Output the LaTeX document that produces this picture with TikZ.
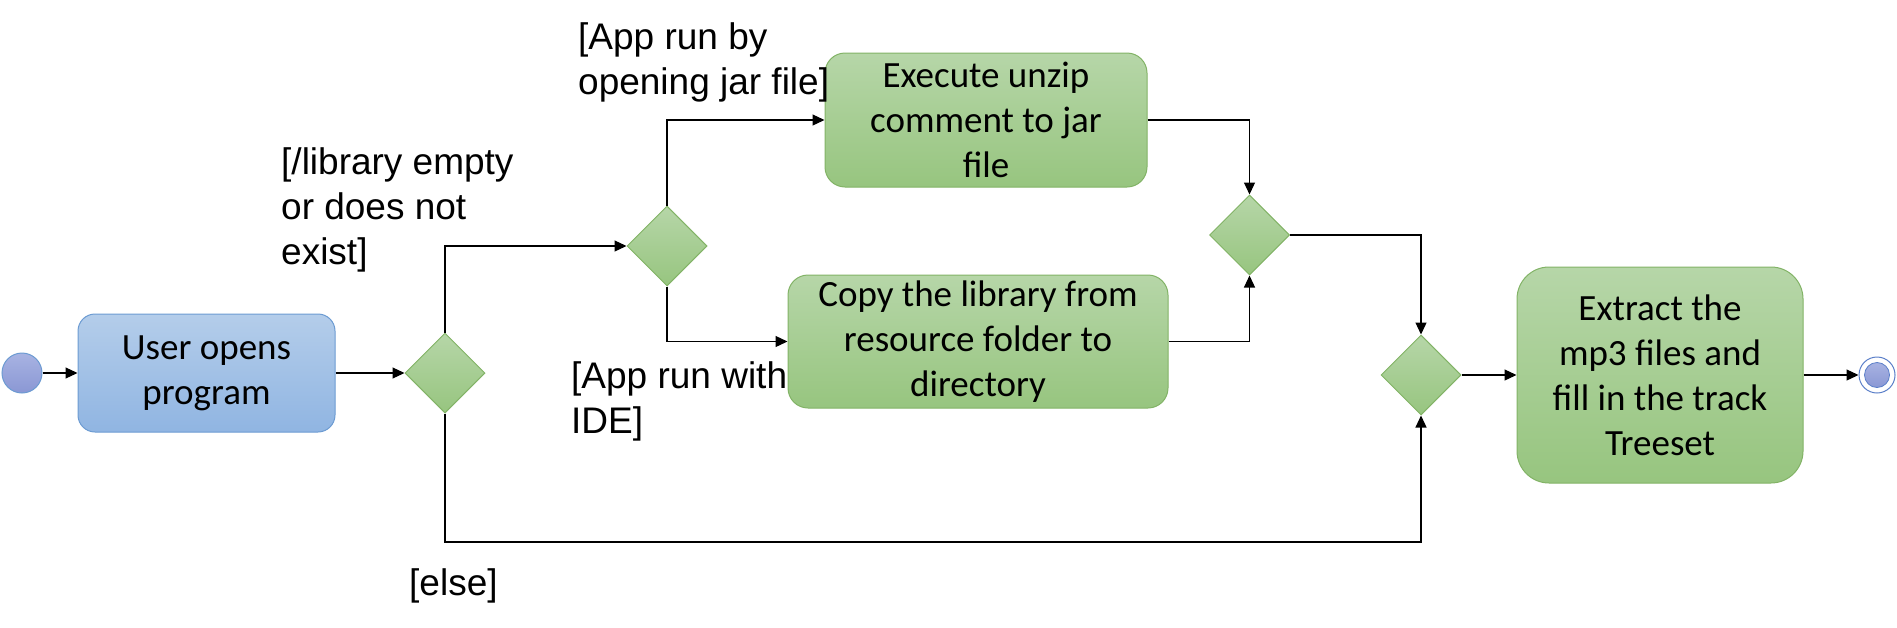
\documentclass[tikz,border=0pt]{standalone}
\usepackage{fontspec}
\setmainfont{Carlito}
\newfontfamily\labelfont{Liberation Sans}
\usetikzlibrary{shapes.geometric,arrows.meta}
\definecolor{grntop}{HTML}{B6D6A8}
\definecolor{grnbot}{HTML}{97C57F}
\definecolor{grnline}{HTML}{82B366}
\definecolor{blutop}{HTML}{B4CDEA}
\definecolor{blubot}{HTML}{90B5E2}
\definecolor{bluline}{HTML}{6C9BD2}
\definecolor{dottop}{HTML}{A8B3E2}
\definecolor{dotbot}{HTML}{8A97D4}
\definecolor{dotline}{HTML}{5B7FC9}
\begin{document}
\begin{tikzpicture}[x=1pt,y=-1pt,
  act/.style={rectangle, rounded corners=#1, align=center, inner sep=0pt,
    font=\fontsize{37}{45}\selectfont, line width=1pt},
  greenbox/.style={draw=grnline, top color=grntop, bottom color=grnbot},
  bluebox/.style={draw=bluline, top color=blutop, bottom color=blubot},
  dec/.style={diamond, aspect=1, draw=grnline, line width=1pt, top color=grntop,
    bottom color=grnbot, minimum width=80pt, minimum height=80pt, inner sep=0pt},
  startc/.style={circle, draw=bluline, line width=1pt, top color=dottop,
    bottom color=dotbot, minimum size=40pt, inner sep=0pt},
  endout/.style={circle, draw=dotline, line width=1pt, fill=white,
    minimum size=36pt, inner sep=0pt},
  endin/.style={circle, draw=dotline, line width=0.8pt, top color=dottop,
    bottom color=dotbot, minimum size=25pt, inner sep=0pt},
  arr/.style={draw=black, line width=1.2pt, -{Triangle[length=12pt,width=11pt]}},
  lbl/.style={anchor=north west, inner sep=0pt, align=left,
    font=\labelfont\fontsize{37}{45}\selectfont}
]
\useasboundingbox (0,0) rectangle (1897,627);

\node[startc] (start) at (22,373) {};
\node[act=17pt, bluebox, minimum width=257pt, minimum height=118pt] (user) at (206.5,373) {User opens\\program};
\node[dec] (d1) at (445,373) {};
\node[dec] (d2) at (667,246) {};
\node[act=20pt, greenbox, minimum width=322pt, minimum height=134pt] (exec) at (986,120) {Execute unzip\\comment to jar\\file};
\node[act=20pt, greenbox, minimum width=380pt, minimum height=133pt] (copy) at (978,341.5) {Copy the library from\\resource folder to\\directory};
\node[dec] (d3) at (1249.5,235) {};
\node[dec] (d4) at (1421,375) {};
\node[act=32pt, greenbox, minimum width=286pt, minimum height=216pt] (extract) at (1660,375) {Extract the\\mp3 files and\\fill in the track\\Treeset};
\node[endout] (endo) at (1877,375) {};
\node[endin] (endi) at (endo) {};
\coordinate (elsept) at (445,542);

\draw[arr] (start) -- (user);
\draw[arr] (user) -- (d1);
\draw[arr] (d1.north) |- (d2.west);
\draw[arr] (d2.north) |- (exec.west);
\draw[arr] (d2.south) |- (copy.west);
\draw[arr] (exec.east) -| (d3.north);
\draw[arr] (copy.east) -| (d3.south);
\draw[arr] (d3.east) -| (d4.north);
\draw[arr] (d1.south) -- (elsept) -| (d4.south);
\draw[arr] (d4.east) -- (extract.west);
\draw[arr] (extract.east) -- (endo.west);

\node[lbl] (l1) at (281,147) {[/library empty\\or does not\\exist]};
\node[lbl] (l2) at (578,22) {[App run by\\opening jar file]};
\node[lbl] (l3) at (571,361) {[App run with\\IDE]};
\node[lbl] (l4) at (409,568) {[else]};
\end{tikzpicture}
\end{document}
